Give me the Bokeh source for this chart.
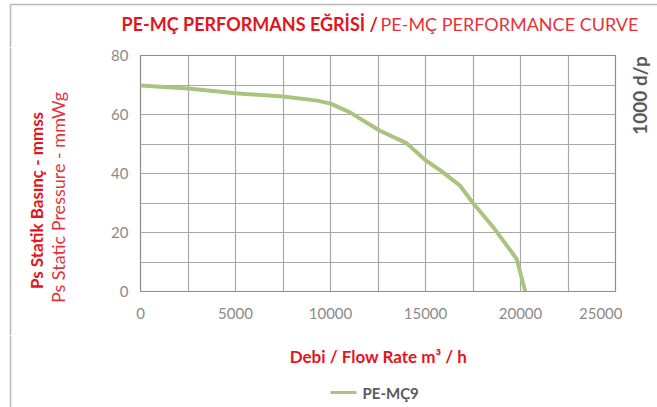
import math
from bokeh.plotting import figure
from bokeh.layouts import column, row
from bokeh.models import SingleIntervalTicker, FixedTicker, Range1d
from bokeh.core.properties import value
from bokeh.embed import file_html
from bokeh.resources import INLINE

# ---- data ----
flow = [0, 2500, 5000, 7500, 9300, 10000, 11000, 12600, 14000, 15000, 15800, 16800, 17500, 18600, 19800, 20250]
pressure = [69.8, 68.8, 67.2, 66.1, 64.7, 63.7, 60.8, 54.5, 50.3, 44.5, 41.0, 36.0, 30.0, 21.5, 11.0, 0.0]
x_ticks = [0, 5000, 10000, 15000, 20000, 25000]
y_ticks = [0, 20, 40, 60, 80]
series_name = "PE-MÇ9"
title_bold = "PE-MÇ PERFORMANS EĞRİSİ /"
title_normal = "PE-MÇ PERFORMANCE CURVE"
ylabel_bold = "Ps Statik Basınç - mmss"
ylabel_normal = "Ps Static Pressure - mmWg"
xlabel = "Debi / Flow Rate m³ / h"
right_note = "1000 d/p"

RED = "#e3141e"
RED2 = "#e5323a"
GRAY = "#8a8a8a"
DARK = "#58595b"
GREEN = "#a9c47f"
BORDER = "#b8b8b8"

W, H = 657, 407
TOP_H = 47          # title strip
MID_H = 288         # main row
BOT_H = H - TOP_H - MID_H
LEFT_W = 70
RIGHT_W = 35
MAIN_W = W - LEFT_W - RIGHT_W

FT, FB = 55, 291     # frame top / bottom in page pixels
FL, FR = 140, 615    # frame left / right in page pixels

HAS_FA = "frame_align" in figure(width=10, height=10).properties()


def blank(w, h, top_b=0, bot_b=0):
    f = figure(width=w, height=h, output_backend="svg", toolbar_location=None,
               x_axis_location=None, y_axis_location=None,
               min_border=0, min_border_left=0, min_border_right=0,
               min_border_top=top_b, min_border_bottom=bot_b)
    if HAS_FA:
        f.frame_align = False
    f.grid.visible = False
    f.outline_line_color = None
    f.background_fill_color = "white"
    f.border_fill_color = "white"
    return f


# page-pixel coordinate system helpers: y ranges expressed as (H - page_y)
def set_ranges(f, x0_page, x1_page, y_top_page, y_bot_page):
    f.x_range = Range1d(x0_page, x1_page)
    f.y_range = Range1d(H - y_bot_page, H - y_top_page)


def txt(f, x, y_page, s, size, color, style="normal", align="center", angle=0.0):
    f.text(x=[x], y=[H - y_page], text=[s], text_font=value("Lato"),
           text_font_size=size, text_color=color, text_font_style=style,
           text_align=align, text_baseline="middle", angle=angle)


def vline(f, x, y0_page, y1_page):
    f.segment(x0=[x], y0=[H - y0_page], x1=[x], y1=[H - y1_page], line_color=BORDER, line_width=1.5)


# ---- top strip: title ----
top = blank(W, TOP_H)
set_ranges(top, 0, W, 0, TOP_H)
top.segment(x0=[10], y0=[H - 4], x1=[W], y1=[H - 4], line_color=BORDER, line_width=1.5)
vline(top, 10, 4, TOP_H)
txt(top, 121, 23, title_bold, "18px", RED, "bold", "left")
txt(top, 380, 23, title_normal, "18px", RED2, "normal", "left")

# ---- middle side strips ----
if HAS_FA:
    left = blank(LEFT_W, MID_H)
    set_ranges(left, 0, LEFT_W, TOP_H, TOP_H + MID_H)
    right = blank(RIGHT_W, MID_H)
    set_ranges(right, LEFT_W + MAIN_W, W, TOP_H, TOP_H + MID_H)
else:
    left = blank(LEFT_W, MID_H, FT - TOP_H, TOP_H + MID_H - FB)
    set_ranges(left, 0, LEFT_W, FT, FB)
    right = blank(RIGHT_W, MID_H, FT - TOP_H, TOP_H + MID_H - FB)
    set_ranges(right, LEFT_W + MAIN_W, W, FT, FB)

vline(left, 10, TOP_H, TOP_H + MID_H)
txt(left, 36, 200, ylabel_bold, "17px", RED, "bold", "center", math.pi / 2)
txt(left, 57, 197, ylabel_normal, "18px", RED2, "normal", "center", math.pi / 2)
txt(right, 639, 95, right_note, "19px", DARK, "bold", "center", math.pi / 2)

# ---- main chart ----
p = figure(width=MAIN_W, height=MID_H, output_backend="svg", toolbar_location=None,
           x_range=(0, 25000), y_range=(0, 80),
           min_border_left=FL - LEFT_W, min_border_right=(LEFT_W + MAIN_W) - FR,
           min_border_top=FT - TOP_H, min_border_bottom=(TOP_H + MID_H) - FB)
if HAS_FA:
    p.frame_align = False
p.outline_line_color = "#8c8c8c"
p.outline_line_width = 1.2
p.background_fill_color = "white"
p.border_fill_color = "white"

p.xaxis.ticker = FixedTicker(ticks=x_ticks)
p.yaxis.ticker = FixedTicker(ticks=y_ticks)
for ax in (p.xaxis[0], p.yaxis[0]):
    ax.axis_line_color = None
    ax.major_tick_line_color = None
    ax.minor_tick_line_color = None
    ax.major_label_text_color = GRAY
    ax.major_label_text_font = "Lato"
    ax.major_label_text_font_size = "15px"
p.xaxis.major_label_standoff = 10
p.yaxis.major_label_standoff = 6

p.xgrid.ticker = SingleIntervalTicker(interval=2500)
p.ygrid.ticker = SingleIntervalTicker(interval=10)
p.xgrid.grid_line_color = "#a8a8a8"
p.ygrid.grid_line_color = "#a8a8a8"
p.xgrid.grid_line_width = 1.2
p.ygrid.grid_line_width = 1.2

p.line(flow, pressure, line_color=GREEN, line_width=4)

# ---- bottom strip: x label + legend ----
TOPB = TOP_H + MID_H
bot = blank(W, BOT_H)
set_ranges(bot, 0, W, TOPB, H)
vline(bot, 10, TOPB, H)
txt(bot, 378, 356, xlabel, "17px", RED, "bold", "center")
# legend swatch + label
bot.segment(x0=[330], y0=[H - 392], x1=[356], y1=[H - 392], line_color=GREEN, line_width=3)
txt(bot, 362, 392, series_name, "15px", DARK, "bold", "left")

layout = column(top, row(left, p, right), bot)
open("out.html", "w").write(file_html(layout, INLINE))
